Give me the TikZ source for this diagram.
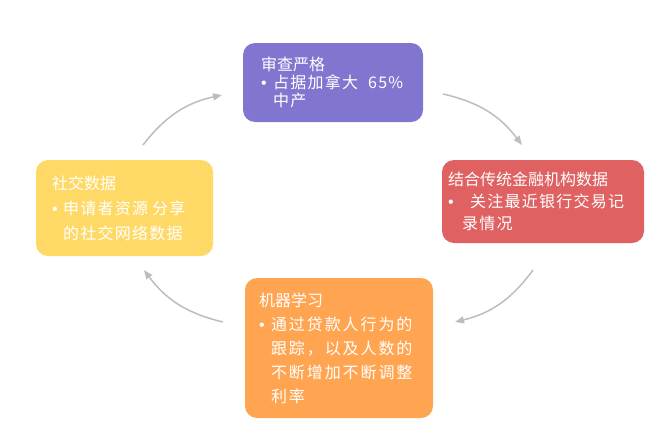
\documentclass[tikz,border=0pt]{standalone}
\usepackage{fontspec}
\setmainfont{Noto Sans CJK SC}
\newfontfamily\dianfont{Liberation Sans}
\usetikzlibrary{arrows.meta}
\usetikzlibrary{positioning}
\definecolor{shenzi}{HTML}{8076CF}
\definecolor{jinhong}{HTML}{DF6162}
\definecolor{shehuang}{HTML}{FFD966}
\definecolor{jicheng}{HTML}{FFA551}
\definecolor{huise}{HTML}{BDBDBD}
\newcommand{\dian}[1][12pt]{\makebox[#1][l]{\dianfont •}}
\newcommand{\kuan}[1][8]{\addfontfeature{LetterSpace=#1}}
\tikzstyle{card}=[rounded corners=12pt,text=white,align=left,draw=none]
\tikzstyle{turn}=[-{Triangle[length=9pt,width=7pt]},line width=1.5pt,color=huise]

\begin{document}
\begin{tikzpicture}[x=1pt,y=-1pt]
    \useasboundingbox (0,0) rectangle (663,442);

    % four cards round the cycle
    \node[card,fill=shenzi,inner xsep=15pt,text width=150pt,minimum height=79pt,
          font=\fontsize{16}{18}\selectfont] (shencha) at (333,82.5)
          {\hspace*{3pt}审查严格\\\kuan\hspace*{3pt}\dian 占据加拿大\hspace{10pt}65\%\\\hspace*{15pt}中产};
    \node[card,fill=jinhong,inner xsep=6pt,text width=190pt,minimum height=83pt,
          font=\fontsize{16}{22}\selectfont] (jinrong) at (543,201.5)
          {结合传统金融机构数据\\\kuan\dian[14pt]\hspace{8pt}关注最近银行交易记\\\hspace*{14pt}录情况};
    \node[card,fill=jicheng,inner xsep=14pt,text width=160pt,minimum height=140pt,
          font=\fontsize{16}{24}\selectfont] (jiqi) at (339,348)
          {机器学习\\\kuan[12]\dian 通过贷款人行为的\\\hspace*{12pt}跟踪，以及人数的\\\hspace*{12pt}不断增加不断调整\\\hspace*{12pt}利率};
    \node[card,fill=shehuang,inner xsep=16pt,text width=145pt,minimum height=96pt,
          font=\fontsize{16}{25}\selectfont] (shejiao) at (124.5,208)
          {社交数据\\\kuan\dian[11pt]申请者资源\hspace{4pt}分享\\\hspace*{11pt}的社交网络数据};

    % arrows
    \coordinate (a1) at (143,145);
    \coordinate (b1) at (222,95);
    \coordinate (a2) at (443,94);
    \coordinate (b2) at (522,145);
    \coordinate (a3) at (533,270);
    \coordinate (b3) at (455,322);
    \coordinate (a4) at (223,322);
    \coordinate (b4) at (144,270);
    \draw[turn] (a1) to[bend left=20] (b1);
    \draw[turn] (a2) to[bend left=20] (b2);
    \draw[turn] (a3) to[bend left=20] (b3);
    \draw[turn] (a4) to[bend left=20] (b4);
\end{tikzpicture}
\end{document}
